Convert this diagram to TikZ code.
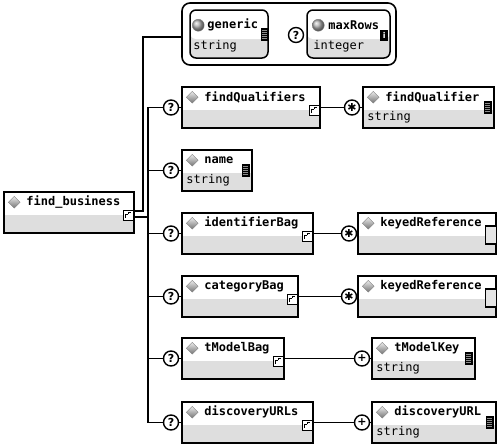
\documentclass[tikz,border=0pt]{standalone}
\usepackage{fontspec}
\setmonofont{DejaVu Sans Mono}
\setsansfont{DejaVu Sans}
\usetikzlibrary{shapes.geometric, positioning}

\begin{document}
\begin{tikzpicture}[
    x=1pt, y=-1pt,
    font=\ttfamily\fontsize{12}{14}\selectfont,
    box/.style={
        draw,
        line width=1.5pt,
        inner sep=0pt,
        minimum height=41pt,
        fill=black!13,
        path picture={\fill[white] (path picture bounding box.north west) rectangle ([yshift=-23pt]path picture bounding box.north east);}
    },
    attr/.style={
        draw,
        line width=1.5pt,
        rounded corners=6pt,
        inner sep=0pt,
        minimum height=48pt,
        fill=black!13,
        path picture={\fill[white] (path picture bounding box.north west) rectangle ([yshift=-29pt]path picture bounding box.north east);}
    },
    group/.style={draw, line width=1.6pt, rounded corners=8pt, fill=white, inner sep=0pt},
    ename/.style={font=\ttfamily\bfseries\fontsize{12}{14}\selectfont, inner sep=0pt, anchor=west},
    etype/.style={inner sep=0pt, anchor=west},
    gem/.style={diamond, draw=black!50, line width=0.4pt, top color=black!8, bottom color=black!55, minimum size=12pt, inner sep=0pt},
    ball/.style={circle, draw=black!50, line width=0.4pt, ball color=black!30, minimum size=12pt, inner sep=0pt},
    xicon/.style={
        draw,
        fill=white,
        line width=0.6pt,
        minimum size=10pt,
        inner sep=0pt,
        path picture={
            \draw[line width=0.7pt] ([shift={(-2.5pt,-3pt)}]path picture bounding box.center) -- ++(0,4pt) -- ++(2.5pt,0);
            \draw[line width=0.7pt] ([shift={(0pt,1pt)}]path picture bounding box.center) -- ++(0,2pt) -- ++(2.5pt,0);
        }
    },
    ticon/.style={
        fill=black,
        minimum width=8pt,
        minimum height=13pt,
        inner sep=0pt,
        path picture={
            \foreach \k in {-4,-2,0,2,4}
                \draw[black!45, line width=0.8pt] ([shift={(-2.5pt,\k pt)}]path picture bounding box.center) -- ++(5pt,0);
        }
    },
    iicon/.style={fill=black, text=white, minimum width=8pt, minimum height=11pt, inner sep=0pt, font=\sffamily\bfseries\footnotesize},
    oicon/.style={draw, fill=black!10, line width=1.2pt, minimum width=11pt, minimum height=18pt, inner sep=0pt},
    occ/.style={circle, draw, line width=1.4pt, fill=white, minimum size=15pt, inner sep=0pt, font=\sffamily\bfseries\fontsize{11}{11}\selectfont},
    wire/.style={line width=1.4pt}
]
    \useasboundingbox (0,0) rectangle (500,447);

    % attributes
    \node[group, minimum width=214pt, minimum height=62pt] (attrs) at (289,34) {};
    \node[attr, minimum width=78pt] (generic) at (229,34) {};
    \node[attr, minimum width=83pt] (maxRows) at (348.5,34) {};
    \node[occ] (gQ) at (296,35) {?};
    \node[ball] (generic-ic) at ([shift={(9pt,-16pt)}]generic.north west) {};
    \node[ename] (generic-nm) at ([shift={(18pt,-16pt)}]generic.north west) {generic};
    \node[etype] (generic-ty) at ([shift={(4pt,-37pt)}]generic.north west) {string};
    \node[ticon] (generic-tx) at ([xshift=-4pt]generic.east) {};
    \node[ball] (maxRows-ic) at ([shift={(12pt,-16pt)}]maxRows.north west) {};
    \node[ename] (maxRows-nm) at ([shift={(22pt,-16pt)}]maxRows.north west) {maxRows};
    \node[etype] (maxRows-ty) at ([shift={(7pt,-37pt)}]maxRows.north west) {integer};
    \node[iicon] (maxRows-tx) at ([shift={(-6.5pt,-1.5pt)}]maxRows.east) {i};

    % elements
    \node[box, minimum width=130pt] (findBusiness) at (69,212.5) {};
    \node[box, minimum width=138pt] (findQualifiers) at (251,107.5) {};
    \node[box, minimum width=131pt] (findQualifier) at (428.5,107.5) {};
    \node[box, minimum width=70pt] (name) at (217,170.5) {};
    \node[box, minimum width=131pt] (identifierBag) at (247.5,233.5) {};
    \node[box, minimum width=138pt] (keyedRefA) at (427,233.5) {};
    \node[box, minimum width=116pt] (categoryBag) at (240,296.5) {};
    \node[box, minimum width=138pt] (keyedRefB) at (427,296.5) {};
    \node[box, minimum width=102pt] (tModelBag) at (233,358.5) {};
    \node[box, minimum width=103pt] (tModelKey) at (423.5,358.5) {};
    \node[box, minimum width=131pt] (discoveryURLs) at (247.5,422.5) {};
    \node[box, minimum width=124pt] (discoveryURL) at (434,422.5) {};

    \foreach \b/\t in {findBusiness/find\_business, findQualifiers/findQualifiers, findQualifier/findQualifier,
                       name/name, identifierBag/identifierBag, keyedRefA/keyedReference, categoryBag/categoryBag,
                       keyedRefB/keyedReference, tModelBag/tModelBag, tModelKey/tModelKey,
                       discoveryURLs/discoveryURLs, discoveryURL/discoveryURL} {
        \node[gem] (\b-ic) at ([shift={(11pt,-11pt)}]\b.north west) {};
        \node[ename] (\b-nm) at ([shift={(23pt,-11pt)}]\b.north west) {\t};
    }
    \foreach \b in {findQualifier, name, tModelKey, discoveryURL} {
        \node[etype] (\b-ty) at ([shift={(5pt,-31pt)}]\b.north west) {string};
        \node[ticon] (\b-tx) at ([xshift=-7pt]\b.east) {};
    }
    \foreach \b in {findBusiness, findQualifiers, identifierBag, categoryBag, tModelBag, discoveryURLs}
        \node[xicon] (\b-xp) at ([shift={(-6.5pt,-2.5pt)}]\b.east) {};
    \foreach \b in {keyedRefA, keyedRefB}
        \node[oicon] (\b-op) at ([shift={(-5.5pt,-1.5pt)}]\b.east) {};

    % occurrence marks
    \node[occ] (fqQ) at (171,107.5) {?};
    \node[occ] (nmQ) at (171,170.5) {?};
    \node[occ] (ibQ) at (171,233.5) {?};
    \node[occ] (cbQ) at (171,296.5) {?};
    \node[occ] (tbQ) at (171,358.5) {?};
    \node[occ] (duQ) at (171,422.5) {?};
    \node[occ] (fqS) at (352,107.5) {✱};
    \node[occ] (ibS) at (349,233.5) {✱};
    \node[occ] (cbS) at (349,296.5) {✱};
    \node[occ] (tbP) at (362,358.5) {+};
    \node[occ] (duP) at (362,422.5) {+};

    % connectors
    \coordinate (spine) at (148,217);
    \coordinate (elbow) at (143,37);
    \draw[wire] ([yshift=-4.5pt]findBusiness.east) -- (spine);
    \draw[wire] ([yshift=1.5pt]findBusiness.east) -| (elbow) -- (elbow -| attrs.west);
    \draw[wire] (fqQ.west) -| (spine |- duQ) -- (duQ.west);
    \foreach \q in {nmQ, ibQ, cbQ, tbQ}
        \draw[wire] (spine |- \q) -- (\q.west);
    \foreach \q/\b in {fqQ/findQualifiers, nmQ/name, ibQ/identifierBag, cbQ/categoryBag, tbQ/tModelBag, duQ/discoveryURLs}
        \draw[wire] (\q) -- (\b.west);
    \draw[wire] (findQualifiers.east) -- (fqS) -- (findQualifier.west);
    \draw[wire] (identifierBag.east) -- (ibS) -- (keyedRefA.west);
    \draw[wire] (categoryBag.east) -- (cbS) -- (keyedRefB.west);
    \draw[wire] (tModelBag.east) -- (tbP) -- (tModelKey.west);
    \draw[wire] (discoveryURLs.east) -- (duP) -- (discoveryURL.west);
\end{tikzpicture}
\end{document}
